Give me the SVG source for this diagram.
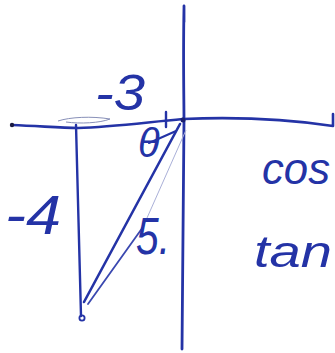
<svg xmlns="http://www.w3.org/2000/svg" width="335" height="353" viewBox="0 0 335 353">
<style>
.ink{fill:none;stroke:#2433a6;stroke-linecap:round;stroke-linejoin:round}
.t{fill:#2433a6;font-family:"Liberation Sans",Arial,sans-serif;font-style:italic}
</style>
<rect width="335" height="353" fill="#ffffff"/>
<g id="axes">
<path class="ink" stroke-width="2.6" d="M12,125 C40,126 60,128 78,128 C110,127 140,123 183,119"/>
<circle cx="12" cy="125" r="2.2" fill="#1a1a40"/>
<path class="ink" stroke-width="2.6" d="M183,119 C230,117 280,118 333,126 L333,114"/>
<path class="ink" stroke-width="2.8" d="M184,6 L184,22 M184,8 C183,60 184,100 184,120 L182,349"/>
<circle cx="183" cy="120" r="2.5" fill="#1a2070"/>
</g>
<g id="triangle">
<path d="M58,121 C70,117 92,116 110,119 C100,123 80,124 66,122" fill="none" stroke="#8890b8" stroke-width="1"/>
<path class="ink" stroke-width="2.4" d="M76,125 C78,180 79,260 81,316"/>
<path class="ink" stroke-width="2.6" d="M180,124 L84,302"/>
<path d="M186,130 L143,227" fill="none" stroke="#aab0d8" stroke-width="1"/>
<path d="M143,227 L88,304" fill="none" stroke="#3a48b0" stroke-width="1.8" stroke-linecap="round"/>
<circle class="ink" cx="82" cy="318" r="2.6" stroke-width="1.8"/>
<path class="ink" stroke-width="2.4" d="M166,112 L166,127"/>
<path class="ink" stroke-width="2" d="M149,143 L176,131"/>
</g>
<g id="labels">
<text class="t" x="138" y="157" font-size="40">θ</text>
<text class="t" x="95" y="110" font-size="50" textLength="50" lengthAdjust="spacingAndGlyphs">-3</text>
<text class="t" x="5" y="234" font-size="56" textLength="56" lengthAdjust="spacingAndGlyphs">-4</text>
<text class="t" x="136" y="254" font-size="52" textLength="34" lengthAdjust="spacingAndGlyphs">5.</text>
<text class="t" x="262" y="184" font-size="44" textLength="68" lengthAdjust="spacingAndGlyphs">cos</text>
<text class="t" x="254" y="267" font-size="44" textLength="78" lengthAdjust="spacingAndGlyphs">tan</text>
</g>
</svg>
